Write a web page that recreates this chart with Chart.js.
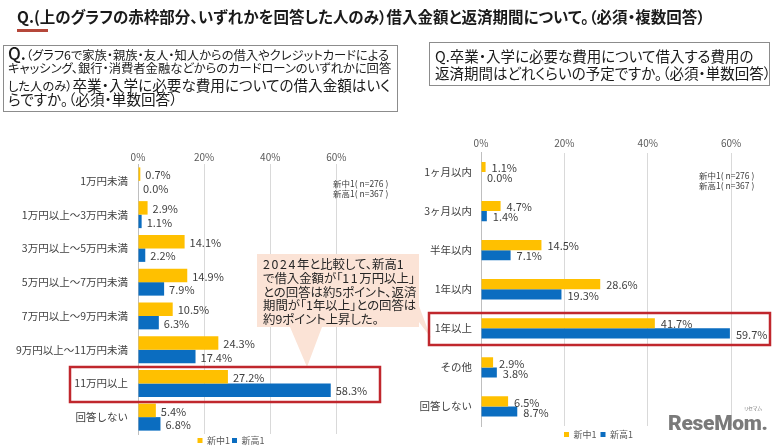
<!DOCTYPE html>
<html><head><meta charset="utf-8">
<script src="https://cdn.jsdelivr.net/npm/chart.js@4.4.1/dist/chart.umd.min.js"></script>
<style>
html,body{margin:0;padding:0;background:#fff;width:777px;height:447px;overflow:hidden;}
body{position:relative;font-family:"Noto Sans CJK JP","Noto Sans",sans-serif;color:#1a1a1a;}
.abs{position:absolute;white-space:nowrap;font-feature-settings:"palt";}
canvas{position:absolute;}
svg{position:absolute;left:0;top:0;pointer-events:none;}
.wd{letter-spacing:1.6px;}
</style></head><body>
<canvas id="c1" width="462" height="315" style="left:0;top:140px"></canvas>
<canvas id="c2" width="357" height="324" style="left:420px;top:125px"></canvas>

<svg width="777" height="447">
  <path d="M257,254 L419,254 L419,306 L431,338 L419,322 L419,327 L322,327 L307,367 L290,327 L257,327 Z" fill="#FBE3D6"/>
  <rect x="70" y="367" width="310" height="35" fill="none" stroke="#C0272D" stroke-width="2.5"/>
  <rect x="429" y="313" width="341" height="32" fill="none" stroke="#C0272D" stroke-width="2.5"/>
</svg>

<div class="abs" style="left:17px;top:5px;font-size:15.5px;font-weight:700;line-height:22px;">Q.(上のグラフの赤枠部分、いずれかを回答した人のみ）借入金額と返済期間について。（必須・複数回答）</div>
<div style="position:absolute;left:17px;top:29px;width:31px;height:2.5px;background:#B5473A"></div>

<div style="position:absolute;left:3px;top:45px;width:395px;height:67px;border:1px solid #8c8c8c;box-sizing:border-box"></div>
<div class="abs" style="left:8px;top:43px;line-height:20px"><span style="font-size:17px;font-weight:500">Q.</span><span style="font-size:12.3px">（グラフ6で家族・親族・友人・知人からの借入やクレジットカードによる</span></div>
<div class="abs" style="left:8px;top:58px;line-height:20px;font-size:12.3px">キャッシング、銀行・消費者金融などからのカードローンのいずれかに回答</div>
<div class="abs" style="left:8px;top:74px;line-height:20px"><span style="font-size:12.3px">した人のみ）</span><span style="font-size:14.6px">卒業・入学に必要な費用についての借入金額はいく</span></div>
<div class="abs" style="left:8px;top:89px;line-height:20px;font-size:14.6px">らですか。（必須・単数回答）</div>

<div style="position:absolute;left:429px;top:42px;width:341px;height:44px;border:1px solid #8c8c8c;box-sizing:border-box"></div>
<div class="abs" style="left:435px;top:46px;line-height:20px;font-size:14.5px">Q.卒業・入学に必要な費用について借入する費用の</div>
<div class="abs" style="left:435px;top:63px;line-height:20px;font-size:14.5px">返済期間はどれくらいの予定ですか。（必須・単数回答）</div>

<div class="abs" style="left:263px;top:258px;line-height:13.75px;font-size:12.4px;color:#262626"><span class="wd">2024</span>年と比較して、新高1<br>で借入金額が「<span class="wd">11</span>万円以上」<br>との回答は約5ポイント、返済<br>期間が「1年以上」との回答は<br>約9ポイント上昇した。</div>

<div class="abs" style="left:333px;top:179px;line-height:9.5px;font-size:8.5px;color:#404040">新中1( n=276 )<br>新高1( n=367 )</div>
<div class="abs" style="left:699px;top:170px;line-height:10px;font-size:8.5px;color:#404040">新中1( n=276 )<br>新高1( n=367 )</div>

<div class="abs" style="left:668px;top:410px;font-family:Roboto,sans-serif;font-weight:900;font-size:21px;line-height:26px;color:#7a7a7a;letter-spacing:-0.3px">ReseMom.</div>
<div class="abs" style="left:744px;top:405px;font-size:5px;line-height:6px;color:#7a7a7a">リセマム</div>

<script>
// ---- data ----
const seriesNames = ['新中1', '新高1'];
const amountCategories = ['1万円未満','1万円以上～3万円未満','3万円以上～5万円未満','5万円以上～7万円未満','7万円以上～9万円未満','9万円以上～11万円未満','11万円以上','回答しない'];
const amountJHS = [0.7, 2.9, 14.1, 14.9, 10.5, 24.3, 27.2, 5.4];
const amountHS  = [0.0, 1.1, 2.2, 7.9, 6.3, 17.4, 58.3, 6.8];
const periodCategories = ['1ヶ月以内','3ヶ月以内','半年以内','1年以内','1年以上','その他','回答しない'];
const periodJHS = [1.1, 4.7, 14.5, 28.6, 41.7, 2.9, 6.5];
const periodHS  = [0.0, 1.4, 7.1, 19.3, 59.7, 3.8, 8.7];
const tickValues = [0, 20, 40, 60];

const YELLOW = '#FFC000';
const BLUE = '#0B6DC0';

Chart.defaults.font.family = '"Noto Sans CJK JP","Noto Sans",sans-serif';

const valueLabels = {
  id: 'valueLabels',
  afterDatasetsDraw(chart, args, opts) {
    const ctx = chart.ctx;
    ctx.save();
    ctx.font = opts.size + 'px "Noto Sans CJK JP","Noto Sans",sans-serif';
    ctx.fillStyle = '#404040';
    ctx.textBaseline = 'middle';
    ctx.textAlign = 'left';
    chart.data.datasets.forEach((ds, i) => {
      chart.getDatasetMeta(i).data.forEach((bar, j) => {
        ctx.fillText(ds.data[j].toFixed(1) + '%', bar.x + opts.offset, bar.y + 1);
      });
    });
    ctx.restore();
  }
};

function makeChart(id, cats, a, b, cfg) {
  return new Chart(document.getElementById(id), {
    type: 'bar',
    data: {
      labels: cats,
      datasets: [
        { label: seriesNames[0], data: a, backgroundColor: YELLOW, categoryPercentage: cfg.catPct, barPercentage: 1 },
        { label: seriesNames[1], data: b, backgroundColor: BLUE, categoryPercentage: cfg.catPct, barPercentage: 1 }
      ]
    },
    options: {
      indexAxis: 'y',
      responsive: false,
      animation: false,
      devicePixelRatio: 1,
      layout: { padding: 0 },
      scales: {
        x: {
          position: 'top', min: 0, max: cfg.max,
          afterBuildTicks: s => { s.ticks = tickValues.map(v => ({ value: v })); },
          afterFit: s => { s.height = cfg.xh; },
          ticks: { callback: v => v + '%', color: '#595959', font: { size: 10 }, padding: cfg.tp, maxRotation: 0, autoSkip: false },
          grid: { color: c => (c.tick && c.tick.value === 0) ? '#bfbfbf' : '#d9d9d9', drawTicks: false },
          border: { display: false }
        },
        y: {
          afterFit: s => { s.width = cfg.yw; },
          ticks: { color: '#404040', font: { size: 10.5 }, padding: cfg.yp, autoSkip: false },
          grid: { display: false, drawTicks: false },
          border: { color: '#bfbfbf' }
        }
      },
      plugins: {
        legend: { position: 'bottom', labels: { boxWidth: 5, boxHeight: 5, padding: cfg.lp, font: { size: 9 }, color: '#595959' } },
        tooltip: { enabled: false },
        valueLabels: { size: 11, offset: cfg.off }
      }
    },
    plugins: [valueLabels]
  });
}

makeChart('c1', amountCategories, amountJHS, amountHS, { catPct: 0.8, max: 98, xh: 24, tp: 1, yw: 138, yp: 10, lp: 2, off: 5 });
makeChart('c2', periodCategories, periodJHS, periodHS, { catPct: 0.52, max: 71, xh: 27.5, tp: 3, yw: 61, yp: 9, lp: 4, off: 6 });
</script>
</body></html>
